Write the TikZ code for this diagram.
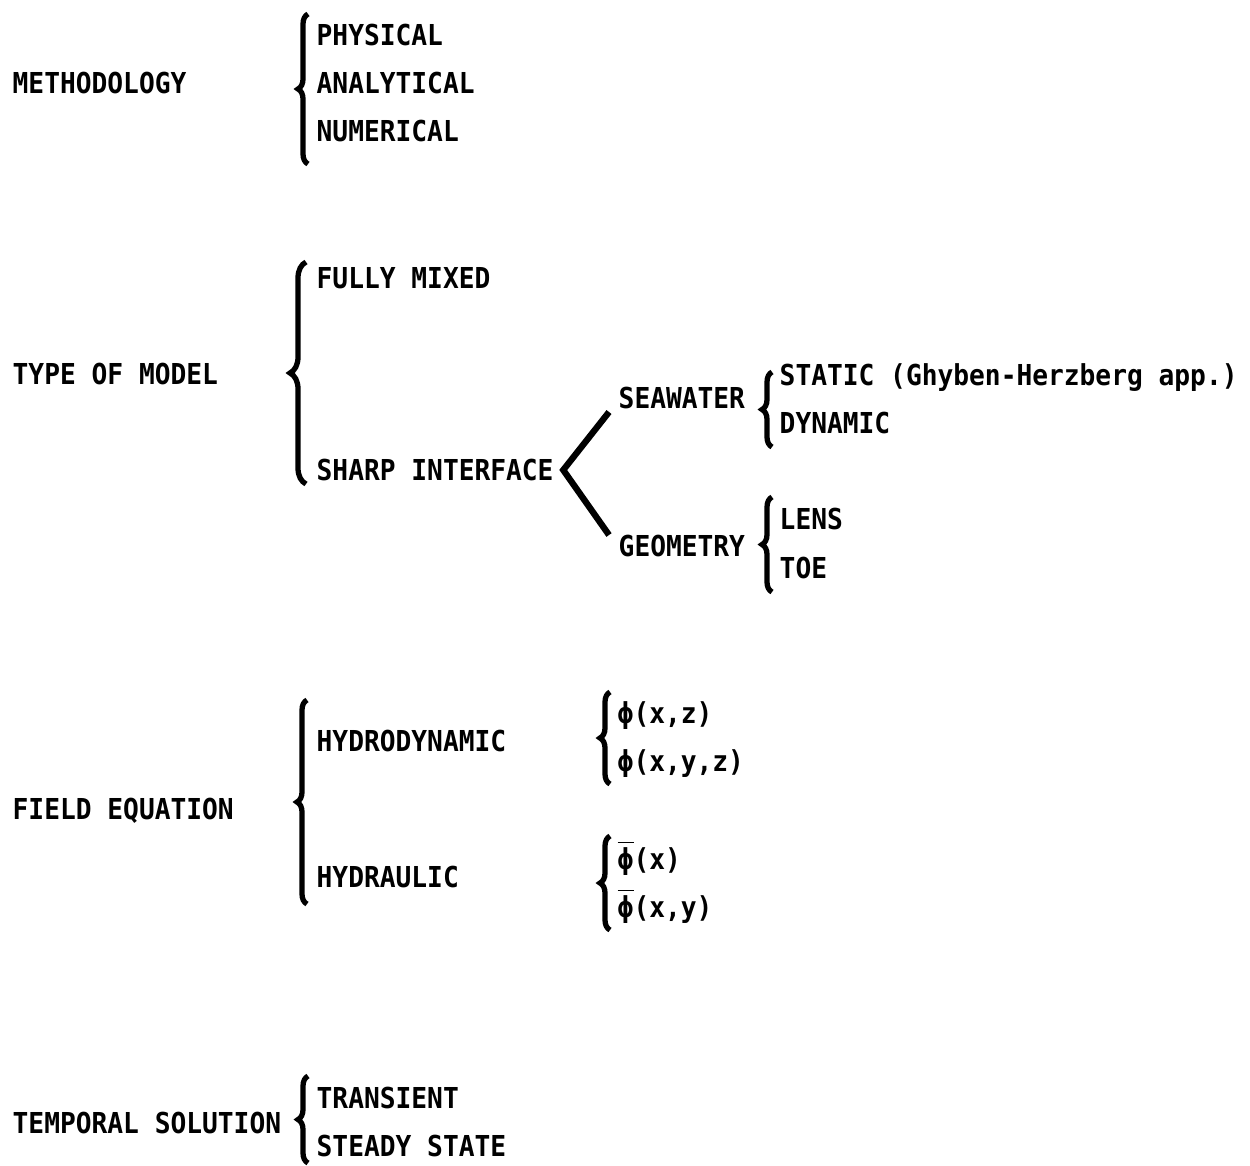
\documentclass[tikz,border=0pt]{standalone}
\usepackage{fontspec}
\setmainfont[FakeStretch=0.91]{DejaVu Sans Mono}
\usetikzlibrary{positioning, decorations.pathreplacing}

\begin{document}
\begin{tikzpicture}[x=0.1mm, y=-0.1mm,
  lbl/.style={anchor=west, inner sep=0pt, text height=2.1mm, text depth=0pt, font=\fontsize{8.2}{10}\selectfont\bfseries},
  brc/.style={decorate, decoration={brace, amplitude=#1}, line width=1.5pt},
  brc/.default=1mm,
  fork/.style={line width=1.8pt}]

\useasboundingbox[fill=white] (0,0) rectangle (1250,1165);

% methodology
\node[lbl] (meth) at (12,83) {METHODOLOGY};
\node[lbl] (phys) at (316,35) {PHYSICAL};
\node[lbl, below=4.8mm of phys.west, anchor=west] (anal) {ANALYTICAL};
\node[lbl, below=4.8mm of anal.west, anchor=west] (num) {NUMERICAL};
\coordinate (b1s) at (308,164);
\coordinate (b1n) at (308,14);
\draw[brc] (b1s) -- (b1n);

% type of model
\node[lbl] (tom) at (12,374) {TYPE OF MODEL};
\node[lbl] (fully) at (316,278) {FULLY MIXED};
\node[lbl] (sharp) at (316,470) {SHARP INTERFACE};
\coordinate (b2s) at (306,484);
\coordinate (b2n) at (306,262);
\draw[brc=1.6mm] (b2s) -- (b2n);

\node[lbl] (sea) at (618,398) {SEAWATER};
\node[lbl] (geo) at (618,546) {GEOMETRY};
\coordinate[right=0.9mm of sharp.east] (fk);
\coordinate[below left=1.4mm and 0.9mm of sea.west] (seaend);
\coordinate[above left=1.1mm and 0.9mm of geo.west] (geoend);
\draw[fork] (seaend) -- (fk) -- (geoend);

\node[lbl] (static) at (779,375) {STATIC (Ghyben-Herzberg app.)};
\node[lbl, below=4.8mm of static.west, anchor=west] (dyn) {DYNAMIC};
\coordinate (b3s) at (772,447);
\coordinate (b3n) at (772,372);
\draw[brc] (b3s) -- (b3n);

\node[lbl] (lens) at (779,519) {LENS};
\node[lbl, below=4.9mm of lens.west, anchor=west] (toe) {TOE};
\coordinate (b4s) at (772,592);
\coordinate (b4n) at (772,497);
\draw[brc] (b4s) -- (b4n);

% field equation
\node[lbl] (feq) at (12,809) {FIELD EQUATION};
\node[lbl] (hydro) at (316,741) {HYDRODYNAMIC};
\node[lbl] (hydrau) at (316,877) {HYDRAULIC};
\coordinate (b5s) at (307,904);
\coordinate (b5n) at (307,700);
\draw[brc] (b5s) -- (b5n);

\node[lbl] (phixz) at (617,713) {ϕ(x,z)};
\node[lbl, below=4.8mm of phixz.west, anchor=west] (phixyz) {ϕ(x,y,z)};
\coordinate (b6s) at (610,784);
\coordinate (b6n) at (610,692);
\draw[brc] (b6s) -- (b6n);

\node[lbl] (phix) at (617,859) {$\overline{\hbox{ϕ}}$(x)};
\node[lbl, below=4.8mm of phix.west, anchor=west] (phixy) {$\overline{\hbox{ϕ}}$(x,y)};
\coordinate (b7s) at (610,930);
\coordinate (b7n) at (610,836);
\draw[brc] (b7s) -- (b7n);

% temporal solution
\node[lbl] (ts) at (12,1123) {TEMPORAL SOLUTION};
\node[lbl] (trans) at (316,1098) {TRANSIENT};
\node[lbl, below=4.8mm of trans.west, anchor=west] (steady) {STEADY STATE};
\coordinate (b8s) at (308,1163);
\coordinate (b8n) at (308,1076);
\draw[brc] (b8s) -- (b8n);
\end{tikzpicture}
\end{document}
